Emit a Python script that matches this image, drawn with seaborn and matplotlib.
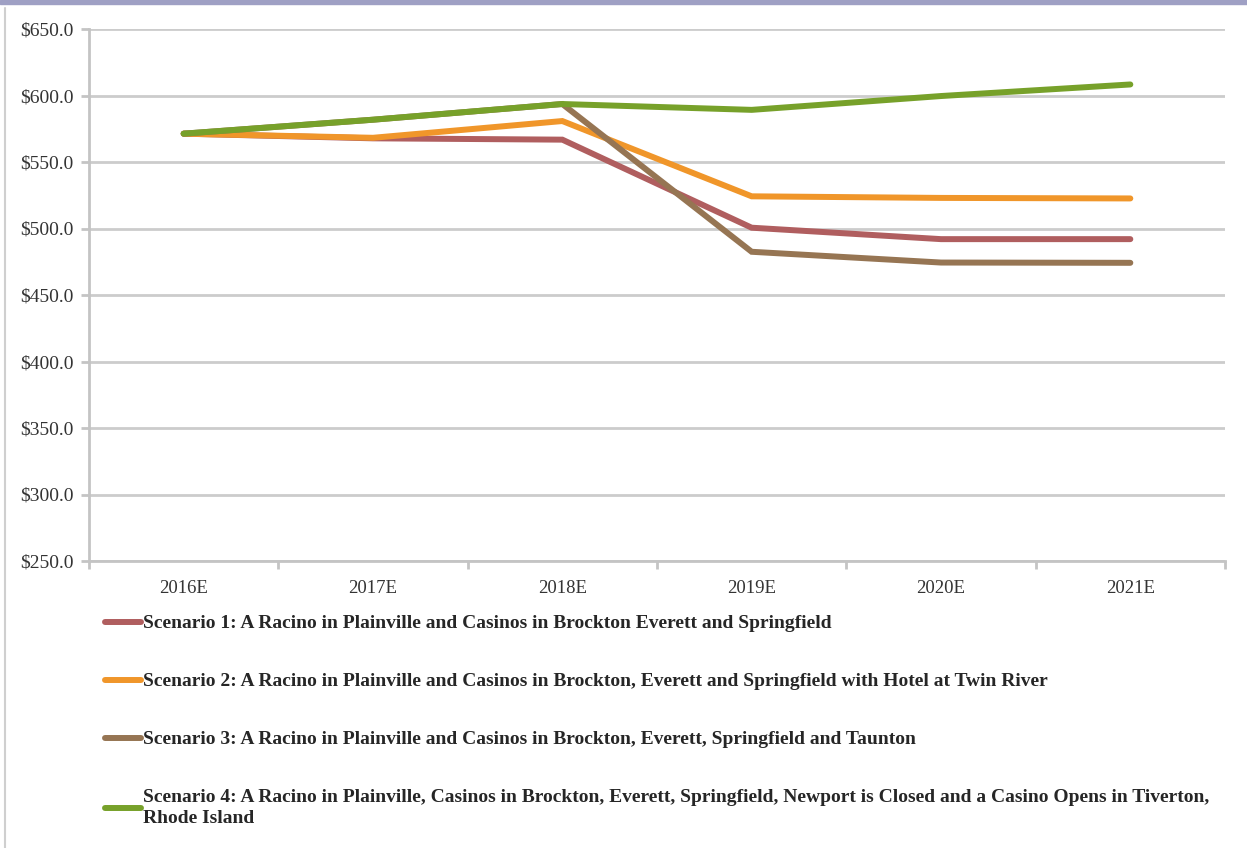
import matplotlib.pyplot as plt
import matplotlib as mpl
import pandas as pd
import seaborn as sns
from matplotlib.ticker import FixedLocator, FuncFormatter

years = ['2016E', '2017E', '2018E', '2019E', '2020E', '2021E']
scenario_1 = [571.3, 567.8, 566.8, 500.6, 492.0, 492.0]
scenario_2 = [571.3, 568.2, 580.8, 524.2, 523.0, 522.6]
scenario_3 = [571.3, 581.8, 593.6, 482.5, 474.4, 474.2]
scenario_4 = [571.3, 581.8, 593.6, 589.2, 599.6, 608.3]
labels = [
    'Scenario 1: A Racino in Plainville and Casinos in Brockton Everett and Springfield',
    'Scenario 2: A Racino in Plainville and Casinos in Brockton, Everett and Springfield with Hotel at Twin River',
    'Scenario 3: A Racino in Plainville and Casinos in Brockton, Everett, Springfield and Taunton',
    'Scenario 4: A Racino in Plainville, Casinos in Brockton, Everett, Springfield, Newport is Closed and a Casino Opens in Tiverton,\nRhode Island',
]
colors = ['#B05E5F', '#F0962A', '#967553', '#77A12A']

rows = []
for lab, vals in zip(labels, [scenario_1, scenario_2, scenario_3, scenario_4]):
    for yr, v in zip(years, vals):
        rows.append({'year': yr, 'value': v, 'scenario': lab})
df = pd.DataFrame(rows)

sns.set_style('white')
mpl.rcParams['font.family'] = ['Liberation Serif', 'DejaVu Serif']

fig = plt.figure(figsize=(12.47, 8.48), dpi=100)
ax = fig.add_axes([89 / 1247, 1 - 561 / 848, (1225 - 89) / 1247, (561 - 29) / 848])

sns.lineplot(data=df, x='year', y='value', hue='scenario', palette=colors,
             linewidth=4.3, ax=ax, sort=False, legend=True,
             solid_capstyle='round', solid_joinstyle='miter')

ax.set_xlim(-0.5, len(years) - 0.5)
ax.set_ylim(250, 650)
ax.set_yticks(range(250, 651, 50))
ax.yaxis.set_major_formatter(FuncFormatter(lambda v, p: f'${v:.1f}'))
ax.set_xlabel('')
ax.set_ylabel('')

ax.grid(axis='y', color='#cccccc', linewidth=2)
ax.set_axisbelow(True)
for s in ['top', 'right']:
    ax.spines[s].set_visible(False)
for s in ['left', 'bottom']:
    ax.spines[s].set_color('#c4c4c4')
    ax.spines[s].set_linewidth(2)

ax.tick_params(axis='y', which='major', length=6, width=2, color='#c4c4c4',
               labelsize=14, labelcolor='#333333', pad=5, left=True)
ax.tick_params(axis='x', which='major', length=0, labelsize=13.5,
               labelcolor='#333333', pad=14)
ax.xaxis.set_minor_locator(FixedLocator([i - 0.5 for i in range(len(years) + 1)]))
ax.tick_params(axis='x', which='minor', length=6, width=2, color='#c4c4c4', bottom=True)

handles, labs = ax.get_legend_handles_labels()
leg = ax.legend(handles, labs, loc='upper left', bbox_to_anchor=(97 / 1247, 1 - 607 / 848),
                bbox_transform=fig.transFigure, frameon=False, borderaxespad=0,
                handlelength=1.85, handletextpad=0.1, labelspacing=2.08,
                prop={'family': ['Liberation Serif'], 'weight': 'bold', 'size': 14})
for t in leg.get_texts():
    t.set_linespacing(1.35)

# window-like border
fig.add_artist(mpl.patches.Rectangle((0, 1 - 4 / 848), 1, 4 / 848, transform=fig.transFigure,
                                     color='#9fa0c4', zorder=5))
fig.add_artist(mpl.lines.Line2D([5 / 1247, 5 / 1247], [0, 1 - 8 / 848], transform=fig.transFigure,
                                color='#cfcfcf', linewidth=1.5))

fig.savefig('out.png', dpi=100)
